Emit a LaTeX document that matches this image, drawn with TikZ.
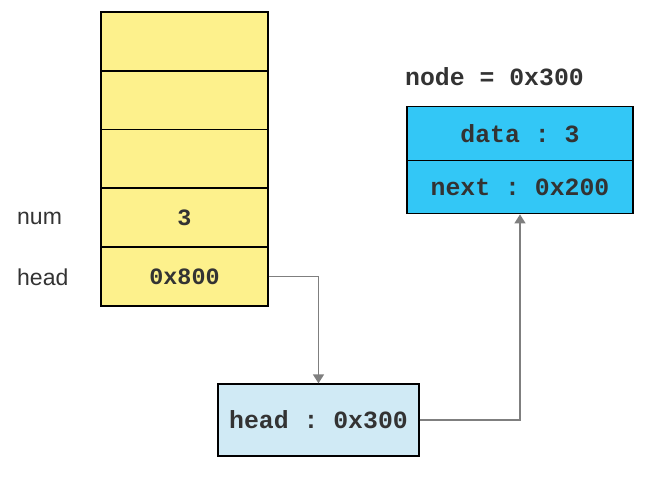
\documentclass[tikz,border=0pt]{standalone}
\usepackage{fontspec}
\setmainfont{Liberation Sans}
\setmonofont{Liberation Mono}
\usetikzlibrary{arrows.meta}
\definecolor{cellyellow}{HTML}{FDF18C}
\definecolor{nodeblue}{HTML}{33C7F6}
\definecolor{headblue}{HTML}{D0EAF5}
\definecolor{txt}{HTML}{333333}
\definecolor{arrowgray}{HTML}{7F7F7F}
\tikzset{
  cell/.style={draw=black, line width=1.3pt, fill=cellyellow, minimum width=167pt, minimum height=59pt, inner sep=0pt, text=txt, font=\ttfamily\bfseries\fontsize{23.4}{23.4}\selectfont},
  bluecell/.style={draw=black, line width=1.3pt, fill=nodeblue, minimum width=226pt, minimum height=53.5pt, inner sep=0pt, text=txt, font=\ttfamily\bfseries\fontsize{24.8}{24.8}\selectfont},
  headbox/.style={draw=black, line width=1.3pt, fill=headblue, minimum width=201pt, minimum height=72pt, inner sep=0pt, text=txt, font=\ttfamily\bfseries\fontsize{24.8}{24.8}\selectfont},
  lbl/.style={anchor=west, inner sep=0pt, text=txt, font=\fontsize{23}{23}\selectfont},
  monolbl/.style={anchor=west, inner sep=0pt, text=txt, font=\ttfamily\bfseries\fontsize{24.8}{24.8}\selectfont},
  link/.style={draw=arrowgray, line width=1.4pt, -{Triangle[length=9pt,width=11pt]}}
}
\begin{document}
\begin{tikzpicture}[x=1pt,y=-1pt]
\useasboundingbox (0,0) rectangle (650,478);
\node[cell] (c1) at (184.5,41.5) {};
\node[cell] (c2) at (184.5,100.5) {};
\node[cell] (c3) at (184.5,159) {};
\node[cell] (c4) at (184.5,217.5) {3};
\node[cell] (c5) at (184.5,276.5) {0x800};
\node[lbl] (numl) at (17,218) {num};
\node[lbl] (headl) at (17,277) {head};
\node[monolbl] (nodel) at (405,77) {node = 0x300};
\node[bluecell] (d1) at (520,133.5) {data : 3};
\node[bluecell] (d2) at (520,187) {next : 0x200};
\node[headbox] (hb) at (318.5,420) {head : 0x300};
\draw[link] (c5.east) -| (hb.north);
\draw[link] (hb.east) -| (d2.south);
\end{tikzpicture}
\end{document}
